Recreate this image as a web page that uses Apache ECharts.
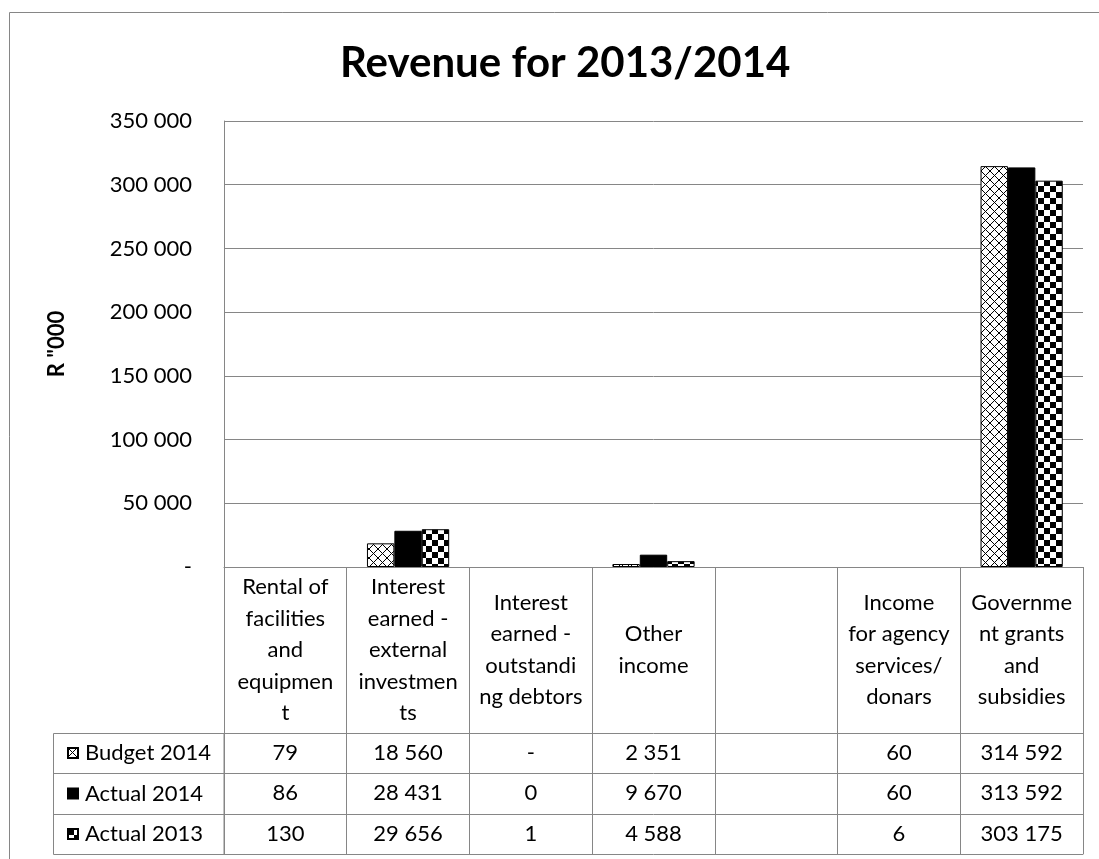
<!DOCTYPE html>
<html>
<head>
<meta charset="utf-8">
<script src="https://cdn.jsdelivr.net/npm/echarts@6/dist/echarts.min.js"></script>
<style>
  html, body { margin: 0; padding: 0; background: #fff; }
  #chart { width: 1099px; height: 859px; }
</style>
</head>
<body>
<div id="chart"></div>
<script>
// categories (line breaks as wrapped in the data table)
const categories = [
  'Rental of\nfacilities\nand\nequipmen\nt',
  'Interest\nearned -\nexternal\ninvestmen\nts',
  'Interest\nearned -\noutstandi\nng debtors',
  'Other\nincome',
  '',
  'Income\nfor agency\nservices/\ndonars',
  'Governme\nnt grants\nand\nsubsidies'
]
const seriesNames = ['Budget 2014', 'Actual 2014', 'Actual 2013']
const budget2014 = [79, 18560, 0, 2351, null, 60, 314592]
const actual2014 = [86, 28431, 0.3, 9670, null, 60, 313592]
const actual2013 = [130, 29656, 1, 4588, null, 6, 303175]
const yTicks = [0, 50000, 100000, 150000, 200000, 250000, 300000, 350000]

const FONT = 'Lato, "Noto Sans", sans-serif'
const LINE = '#868686'

// numbers like Excel accounting format: space thousands, '-' for zero
function fmt(v) {
  if (v === null || v === undefined) return ''
  if (v === 0) return '-'
  return String(Math.round(v)).replace(/\B(?=(\d{3})+(?!\d))/g, ' ')
}

// fill patterns
function crossPattern() {
  const c = document.createElement('canvas')
  c.width = 9; c.height = 9
  const g = c.getContext('2d')
  g.fillStyle = '#fff'; g.fillRect(0, 0, 9, 9)
  g.strokeStyle = '#000'; g.lineWidth = 1
  g.beginPath()
  g.moveTo(0, 0); g.lineTo(9, 9)
  g.moveTo(9, 0); g.lineTo(0, 9)
  g.stroke()
  return { image: c, repeat: 'repeat' }
}
function checkerPattern() {
  const c = document.createElement('canvas')
  c.width = 12; c.height = 12
  const g = c.getContext('2d')
  g.fillStyle = '#fff'; g.fillRect(0, 0, 12, 12)
  g.fillStyle = '#000'
  g.fillRect(0, 0, 6, 6)
  g.fillRect(6, 6, 6, 6)
  return { image: c, repeat: 'repeat' }
}

const seriesData = [budget2014, actual2014, actual2013]
const fills = [crossPattern(), '#000', checkerPattern()]

const chart = echarts.init(document.getElementById('chart'))

const gridBox = { left: 224, right: 16, top: 121, bottom: 292, outerBoundsMode: 'none' }
const rowOffsets = [166, 206, 247]

const xAxes = [{
  type: 'category',
  gridIndex: 0,
  data: categories,
  axisLine: { show: true, onZero: false, lineStyle: { color: LINE, width: 1 } },
  axisTick: { show: true, length: 287, lineStyle: { color: LINE, width: 1 } },
  axisLabel: {
    interval: 0, margin: 83, verticalAlign: 'middle', align: 'center',
    fontFamily: FONT, fontSize: 22, lineHeight: 31.5, color: '#000'
  }
}]
rowOffsets.forEach((off, k) => {
  xAxes.push({
    type: 'category',
    gridIndex: k + 1,
    data: categories,
    offset: off,
    axisLine: { show: true, onZero: false, lineStyle: { color: LINE, width: 1 } },
    axisTick: { show: false },
    axisLabel: {
      interval: 0, margin: 20, verticalAlign: 'middle', align: 'center',
      fontFamily: FONT, fontSize: 22, color: '#000',
      formatter: (v, i) => fmt(seriesData[k][i])
    }
  })
})
xAxes.push({
  type: 'category',
  gridIndex: 4,
  data: categories,
  offset: 287,
  axisLine: { show: true, onZero: false, lineStyle: { color: LINE, width: 1 } },
  axisTick: { show: false },
  axisLabel: { show: false }
})

const yAxes = [{
  type: 'value',
  gridIndex: 0,
  min: yTicks[0],
  max: yTicks[yTicks.length - 1],
  interval: 50000,
  name: 'R "000',
  nameLocation: 'middle',
  nameGap: 156,
  nameRotate: 90,
  nameTextStyle: { fontFamily: FONT, fontSize: 22, fontWeight: 'bold', color: '#000' },
  axisLine: { show: true, lineStyle: { color: LINE, width: 1 } },
  axisTick: { show: false },
  splitLine: { show: true, lineStyle: { color: LINE, width: 1 } },
  axisLabel: {
    margin: 32, fontFamily: FONT, fontSize: 22, color: '#000',
    formatter: v => fmt(v)
  }
}]
for (let i = 1; i <= 4; i++) {
  yAxes.push({ type: 'value', gridIndex: i, show: false })
}

chart.setOption({
  animation: false,
  backgroundColor: '#fff',
  title: {
    text: 'Revenue for 2013/2014',
    left: 335,
    top: 37,
    textStyle: { fontFamily: FONT, fontSize: 42, fontWeight: 'bold', color: '#000' }
  },
  grid: [0, 1, 2, 3, 4].map(() => ({ ...gridBox })),
  xAxis: xAxes,
  yAxis: yAxes,
  legend: {
    data: seriesNames,
    orient: 'vertical',
    left: 62,
    top: 736,
    itemWidth: 10,
    itemHeight: 10,
    itemGap: 16.5,
    icon: 'rect',
    selectedMode: false,
    textStyle: { fontFamily: FONT, fontSize: 22, lineHeight: 24, color: '#000', padding: [0, 0, 0, 2] }
  },
  graphic: [
    { type: 'rect', silent: true, shape: { x: 9.5, y: 12.5, width: 1200, height: 1000 },
      style: { fill: 'none', stroke: LINE, lineWidth: 1 } },
    { type: 'rect', silent: true, shape: { x: 53.5, y: 733.5, width: 170.5, height: 121 },
      style: { fill: 'none', stroke: LINE, lineWidth: 1 } },
    { type: 'line', silent: true, shape: { x1: 53.5, y1: 773.5, x2: 224, y2: 773.5 },
      style: { stroke: LINE, lineWidth: 1 } },
    { type: 'line', silent: true, shape: { x1: 53.5, y1: 814.5, x2: 224, y2: 814.5 },
      style: { stroke: LINE, lineWidth: 1 } }
  ],
  series: seriesNames.map((name, k) => ({
    name: name,
    type: 'bar',
    xAxisIndex: 0,
    yAxisIndex: 0,
    // bars too small to see get no outline, as in the original
    data: seriesData[k].map(v => (v !== null && v < 1000)
      ? { value: v, itemStyle: { borderWidth: 0, opacity: 0 } }
      : v),
    barGap: '0%',
    barCategoryGap: '33%',
    itemStyle: { color: fills[k], borderColor: '#000', borderWidth: 1 }
  }))
})
</script>
</body>
</html>
